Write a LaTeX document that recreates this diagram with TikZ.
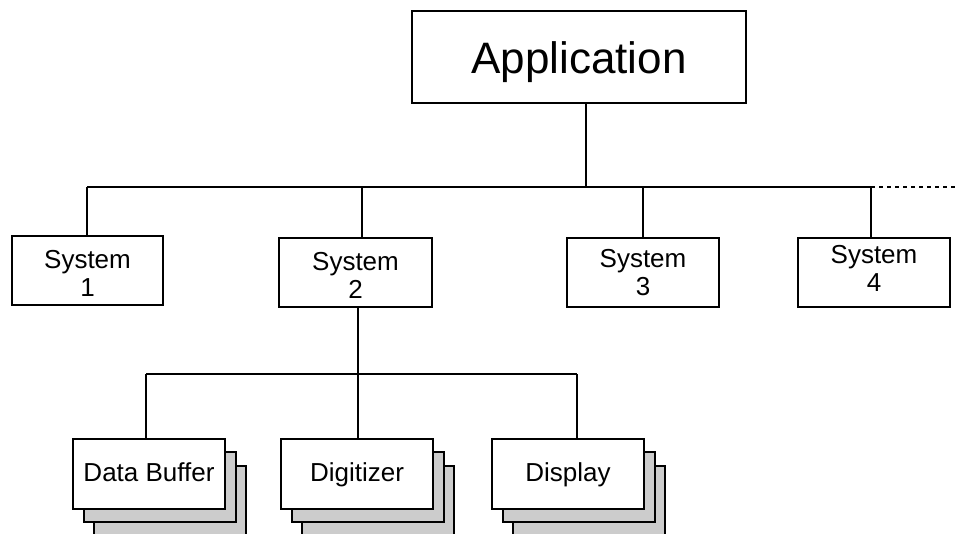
\documentclass[tikz,border=0pt]{standalone}
\usepackage{fontspec}
\setmainfont{Liberation Sans}
\begin{document}
\begin{tikzpicture}[x=1pt,y=-1pt,
  box/.style={draw=black,line width=1.7pt,fill=white,inner sep=0pt,minimum height=69pt},
  sysbox/.style={box,minimum width=152pt},
  modbox/.style={box,minimum width=152pt,minimum height=70pt,text height=19pt,text depth=5pt,font=\fontsize{26}{28}\selectfont},
  shadowbox/.style={draw=black,line width=1.7pt,fill=black!20,inner sep=0pt,minimum width=152pt,minimum height=70pt},
  lbl/.style={align=center,inner sep=0pt,font=\fontsize{26}{28}\selectfont},
  wire/.style={line width=1.6pt}]
\useasboundingbox (0,0) rectangle (958,533);
% Application
\node[box,minimum width=334pt,minimum height=92pt,text height=36pt,text depth=4pt,font=\fontsize{44}{48}\selectfont] (app) at (579,57) {Application};
% System boxes
\node[sysbox,minimum width=151pt] (s1) at (87.5,270.5) {};
\node[sysbox,minimum width=153pt] (s2) at (355.5,272.5) {};
\node[sysbox] (s3) at (643,272.5) {};
\node[sysbox] (s4) at (874,272.5) {};
\node[lbl] (t1) at (87.5,273) {System\\1};
\node[lbl] (t2) at (355.5,275) {System\\2};
\node[lbl] (t3) at (643,273) {System\\3};
\node[lbl] (t4) at (874,268) {System\\4};
% top bus
\coordinate (busL) at (87,187);
\coordinate (tapA) at (586,187);
\coordinate (j2) at (362,187);
\coordinate (j3) at (643,187);
\coordinate (busR) at (871,187);
\coordinate (busEnd) at (958,187);
\draw[wire] (busL) -- (busR);
\draw[wire,line width=1.3pt,dash pattern=on 4pt off 4pt] (busR) -- (busEnd);
\draw[wire] (app.south -| tapA) -- (tapA);
\draw[wire] (busL) -- (busL |- s1.north);
\draw[wire] (j2) -- (j2 |- s2.north);
\draw[wire] (j3) -- (j3 |- s3.north);
\draw[wire] (busR) -- (busR |- s4.north);
% module stacks (shadows)
\node[shadowbox] (db2) at (170,501) {};
\node[shadowbox] (db1) at (160,487) {};
\node[shadowbox] (dg2) at (378,501) {};
\node[shadowbox] (dg1) at (368,487) {};
\node[shadowbox] (dp2) at (589,501) {};
\node[shadowbox] (dp1) at (579,487) {};
\node[modbox] (db) at (149,474) {Data Buffer};
\node[modbox] (dg) at (357,474) {Digitizer};
\node[modbox] (dp) at (568,474) {Display};
% lower bus
\coordinate (lbL) at (146,374);
\coordinate (lbM) at (358,374);
\coordinate (lbR) at (577,374);
\draw[wire] (lbL) -- (lbR);
\draw[wire] (lbM |- s2.south) -- (lbM);
\draw[wire] (lbL) -- (lbL |- db.north);
\draw[wire] (lbM) -- (lbM |- dg.north);
\draw[wire] (lbR) -- (lbR |- dp.north);
\end{tikzpicture}
\end{document}
